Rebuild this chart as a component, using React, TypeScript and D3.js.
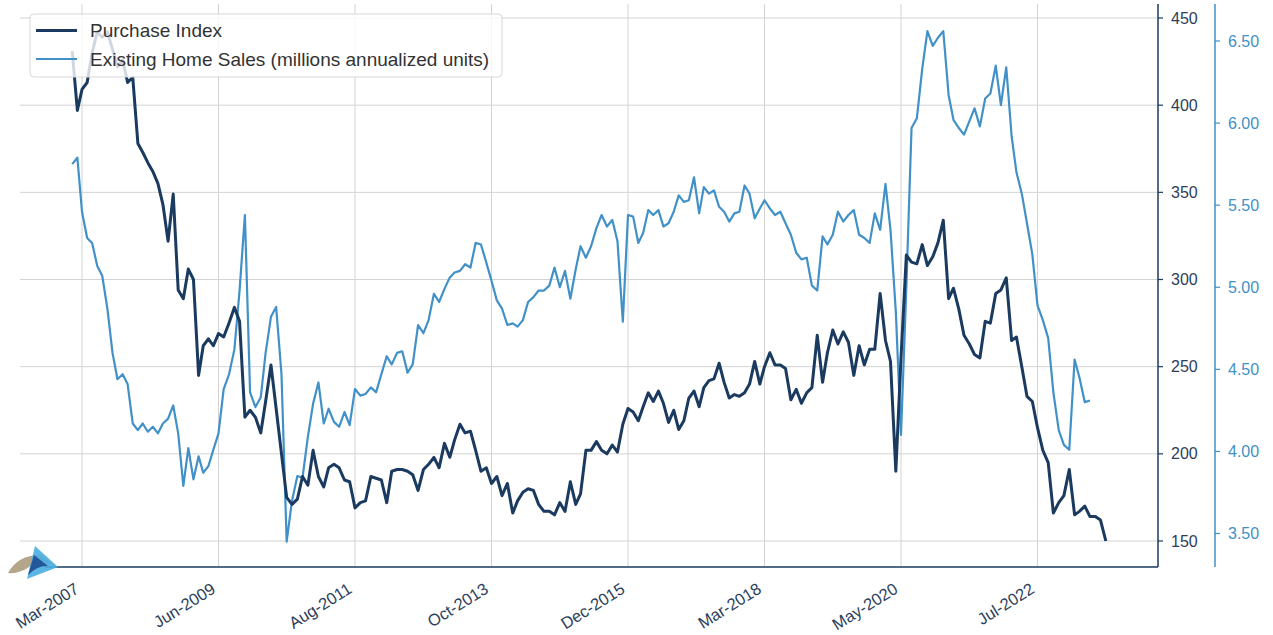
import React from 'react';
import * as d3 from 'd3';

// Monthly observations starting Jan-2007
const startDate = new Date(2007, 0, 1);

const purchaseIndex = [
  431, 397, 409, 413, 430, 442, 439, 442, 432, 422, 426, 413, 416, 378, 373, 367, 362, 355, 343, 322,
  349, 294, 289, 306, 300, 245, 262, 266, 262, 269, 267, 275, 284, 276, 221, 225, 221, 212, 230, 251,
  226, 200, 175, 171, 174, 187, 182, 202, 187, 181, 192, 194, 192, 185, 184, 169, 172, 173, 187, 186,
  185, 172, 190, 191, 191, 190, 188, 179, 191, 194, 198, 192, 206, 198, 208, 217, 212, 213, 202, 190,
  192, 183, 187, 176, 183, 166, 173, 178, 180, 179, 171, 167, 167, 165, 172, 167, 184, 171, 177, 202,
  202, 207, 202, 200, 205, 201, 217, 226, 224, 219, 227, 235, 230, 236, 229, 218, 225, 214, 219, 232,
  236, 227, 238, 242, 243, 252, 241, 232, 234, 233, 235, 240, 253, 240, 250, 258, 251, 251, 249, 231,
  237, 229, 235, 238, 268, 241, 258, 271, 263, 270, 264, 245, 262, 251, 260, 260, 292, 265, 253, 190,
  255, 314, 310, 309, 320, 308, 313, 321, 334, 289, 295, 283, 268, 263, 257, 255, 276, 275, 292, 294,
  301, 265, 267, 250, 233, 230, 215, 202, 195, 166, 172, 176, 191, 165, 167, 170, 164, 164, 162, 150,
];

const existingHomeSales = [
  5.75, 5.79, 5.46, 5.30, 5.27, 5.13, 5.07, 4.87, 4.60, 4.44, 4.47, 4.41, 4.17, 4.13, 4.17, 4.12, 4.15, 4.11, 4.17, 4.20,
  4.28, 4.11, 3.79, 4.02, 3.83, 3.97, 3.87, 3.91, 4.01, 4.11, 4.38, 4.47, 4.62, 4.98, 5.44, 4.36, 4.27, 4.33, 4.60, 4.82,
  4.88, 4.47, 3.45, 3.70, 3.85, 3.84, 4.09, 4.29, 4.42, 4.17, 4.26, 4.18, 4.15, 4.24, 4.16, 4.38, 4.34, 4.35, 4.39, 4.36,
  4.47, 4.58, 4.53, 4.60, 4.61, 4.48, 4.53, 4.77, 4.72, 4.80, 4.96, 4.91, 4.99, 5.06, 5.09, 5.10, 5.14, 5.12, 5.27, 5.26,
  5.15, 5.04, 4.92, 4.87, 4.77, 4.78, 4.76, 4.80, 4.91, 4.94, 4.98, 4.98, 5.01, 5.12, 5.00, 5.10, 4.93, 5.11, 5.25, 5.18,
  5.25, 5.36, 5.44, 5.37, 5.41, 5.28, 4.79, 5.44, 5.43, 5.27, 5.33, 5.47, 5.44, 5.47, 5.37, 5.39, 5.46, 5.56, 5.52, 5.53,
  5.67, 5.45, 5.61, 5.57, 5.59, 5.49, 5.46, 5.40, 5.45, 5.46, 5.62, 5.57, 5.42, 5.48, 5.53, 5.48, 5.44, 5.46, 5.39, 5.32,
  5.21, 5.17, 5.18, 5.01, 4.98, 5.31, 5.26, 5.32, 5.46, 5.40, 5.44, 5.47, 5.32, 5.30, 5.27, 5.45, 5.35, 5.63, 5.35, 4.85,
  4.10, 5.00, 5.97, 6.03, 6.33, 6.56, 6.47, 6.52, 6.56, 6.17, 6.02, 5.97, 5.93, 6.01, 6.09, 5.98, 6.15, 6.18, 6.35, 6.11,
  6.34, 5.92, 5.70, 5.57, 5.39, 5.20, 4.89, 4.80, 4.69, 4.36, 4.13, 4.04, 4.01, 4.56, 4.45, 4.30, 4.31,
];

const xTickLabels = ['Mar-2007', 'Jun-2009', 'Aug-2011', 'Oct-2013', 'Dec-2015', 'Mar-2018', 'May-2020', 'Jul-2022'];
const leftTicks = [150, 200, 250, 300, 350, 400, 450];
const rightTicks = [3.5, 4.0, 4.5, 5.0, 5.5, 6.0, 6.5];
const seriesNames = ['Purchase Index', 'Existing Home Sales (millions annualized units)'];

const W = 1273;
const H = 635;
const NAVY = '#1b3a5f';
const LIGHT = '#4191c8';
const GRID = '#d3d3d3';
const FONT = '"Liberation Sans", Arial, Helvetica, sans-serif';

const plot = { left: 20, right: 1158, top: 4, bottom: 567 };
const axis2X = 1215;

export default function App() {
  const parse = d3.timeParse('%b-%Y');
  const tickDates = xTickLabels.map((s) => parse(s) as Date);
  const firstTickX = 82;
  const lastTickX = 1037.5;
  const step = (lastTickX - firstTickX) / (tickDates.length - 1);
  const x = d3
    .scaleTime()
    .domain(tickDates)
    .range(tickDates.map((_, i) => firstTickX + i * step));

  const yL = d3.scaleLinear().domain([150, 450]).range([541, 18]);
  const yR = d3.scaleLinear().domain([3.5, 6.5]).range([533.5, 41]);

  const dateAt = (i: number) => d3.timeMonth.offset(startDate, i);

  const piLine = d3
    .line<number>()
    .x((_, i) => x(dateAt(i)))
    .y((d) => yL(d));
  const ehsLine = d3
    .line<number>()
    .x((_, i) => x(dateAt(i)))
    .y((d) => yR(d));

  return (
    <svg
      width={W}
      height={H}
      style={{ position: 'absolute', left: 0, top: 0, background: '#fff' }}
      fontFamily={FONT}
    >
      <rect x={0} y={0} width={W} height={H} fill="#fff" />
      {/* grid */}
      {leftTicks.map((t) => (
        <line key={'h' + t} x1={plot.left} x2={plot.right} y1={yL(t)} y2={yL(t)} stroke={GRID} strokeWidth={1} />
      ))}
      {tickDates.map((d, i) => (
        <line key={'v' + i} x1={x(d)} x2={x(d)} y1={plot.top} y2={plot.bottom} stroke={GRID} strokeWidth={1} />
      ))}

      {/* series */}
      <path d={ehsLine(existingHomeSales) || ''} fill="none" stroke={LIGHT} strokeWidth={2.2} strokeLinejoin="round" />
      <path d={piLine(purchaseIndex) || ''} fill="none" stroke={NAVY} strokeWidth={3} strokeLinejoin="round" />

      {/* spines */}
      <line x1={45} x2={plot.right} y1={plot.bottom} y2={plot.bottom} stroke={NAVY} strokeWidth={1.5} />
      <line x1={plot.right} x2={plot.right} y1={plot.top} y2={plot.bottom} stroke={NAVY} strokeWidth={1.5} />
      <line x1={axis2X} x2={axis2X} y1={plot.top} y2={plot.bottom} stroke={LIGHT} strokeWidth={1.5} />

      {/* primary axis ticks (drawn on the right) */}
      {leftTicks.map((t) => (
        <g key={'lt' + t}>
          <line x1={plot.right} x2={plot.right + 5} y1={yL(t)} y2={yL(t)} stroke={NAVY} strokeWidth={1.2} />
          <text x={plot.right + 13} y={yL(t)} dy="0.35em" fontSize={16} fill="#2c3e5a">
            {t}
          </text>
        </g>
      ))}
      {rightTicks.map((t) => (
        <g key={'rt' + t}>
          <line x1={axis2X} x2={axis2X + 5} y1={yR(t)} y2={yR(t)} stroke={LIGHT} strokeWidth={1.2} />
          <text x={axis2X + 13} y={yR(t)} dy="0.35em" fontSize={16} fill={LIGHT}>
            {t.toFixed(2)}
          </text>
        </g>
      ))}

      {/* x tick labels */}
      {tickDates.map((d, i) => (
        <text
          key={'xl' + i}
          transform={`translate(${x(d) - 5},${587}) rotate(-32)`}
          textAnchor="end"
          dy="0.35em"
          fontSize={16.5}
          fill="#2c3e5a"
        >
          {xTickLabels[i]}
        </text>
      ))}

      {/* logo */}
      <g>
        <path d="M8,573 Q18,555 40,555 L57,566 Q38,560 26,569 Q17,574 8,573 Z" fill="#b5a58b" />
        <path d="M27,579 L35,546 L58,567 Z" fill="#4aaee0" opacity={0.9} />
        <path d="M28,575 L34,555 L48,566 Q38,565 28,575 Z" fill="#24579a" />
      </g>

      {/* legend */}
      <g>
        <rect x={30} y={14} width={472} height={63} rx={4} fill="#fff" fillOpacity={0.8} stroke="#d8d8d8" />
        <line x1={36} x2={77} y1={30.5} y2={30.5} stroke={NAVY} strokeWidth={3} />
        <line x1={36} x2={77} y1={59} y2={59} stroke={LIGHT} strokeWidth={2.2} />
        <text x={90} y={30.5} dy="0.35em" fontSize={19} fill="#333">
          {seriesNames[0]}
        </text>
        <text x={90} y={59} dy="0.35em" fontSize={19} fill="#333">
          {seriesNames[1]}
        </text>
      </g>
    </svg>
  );
}
